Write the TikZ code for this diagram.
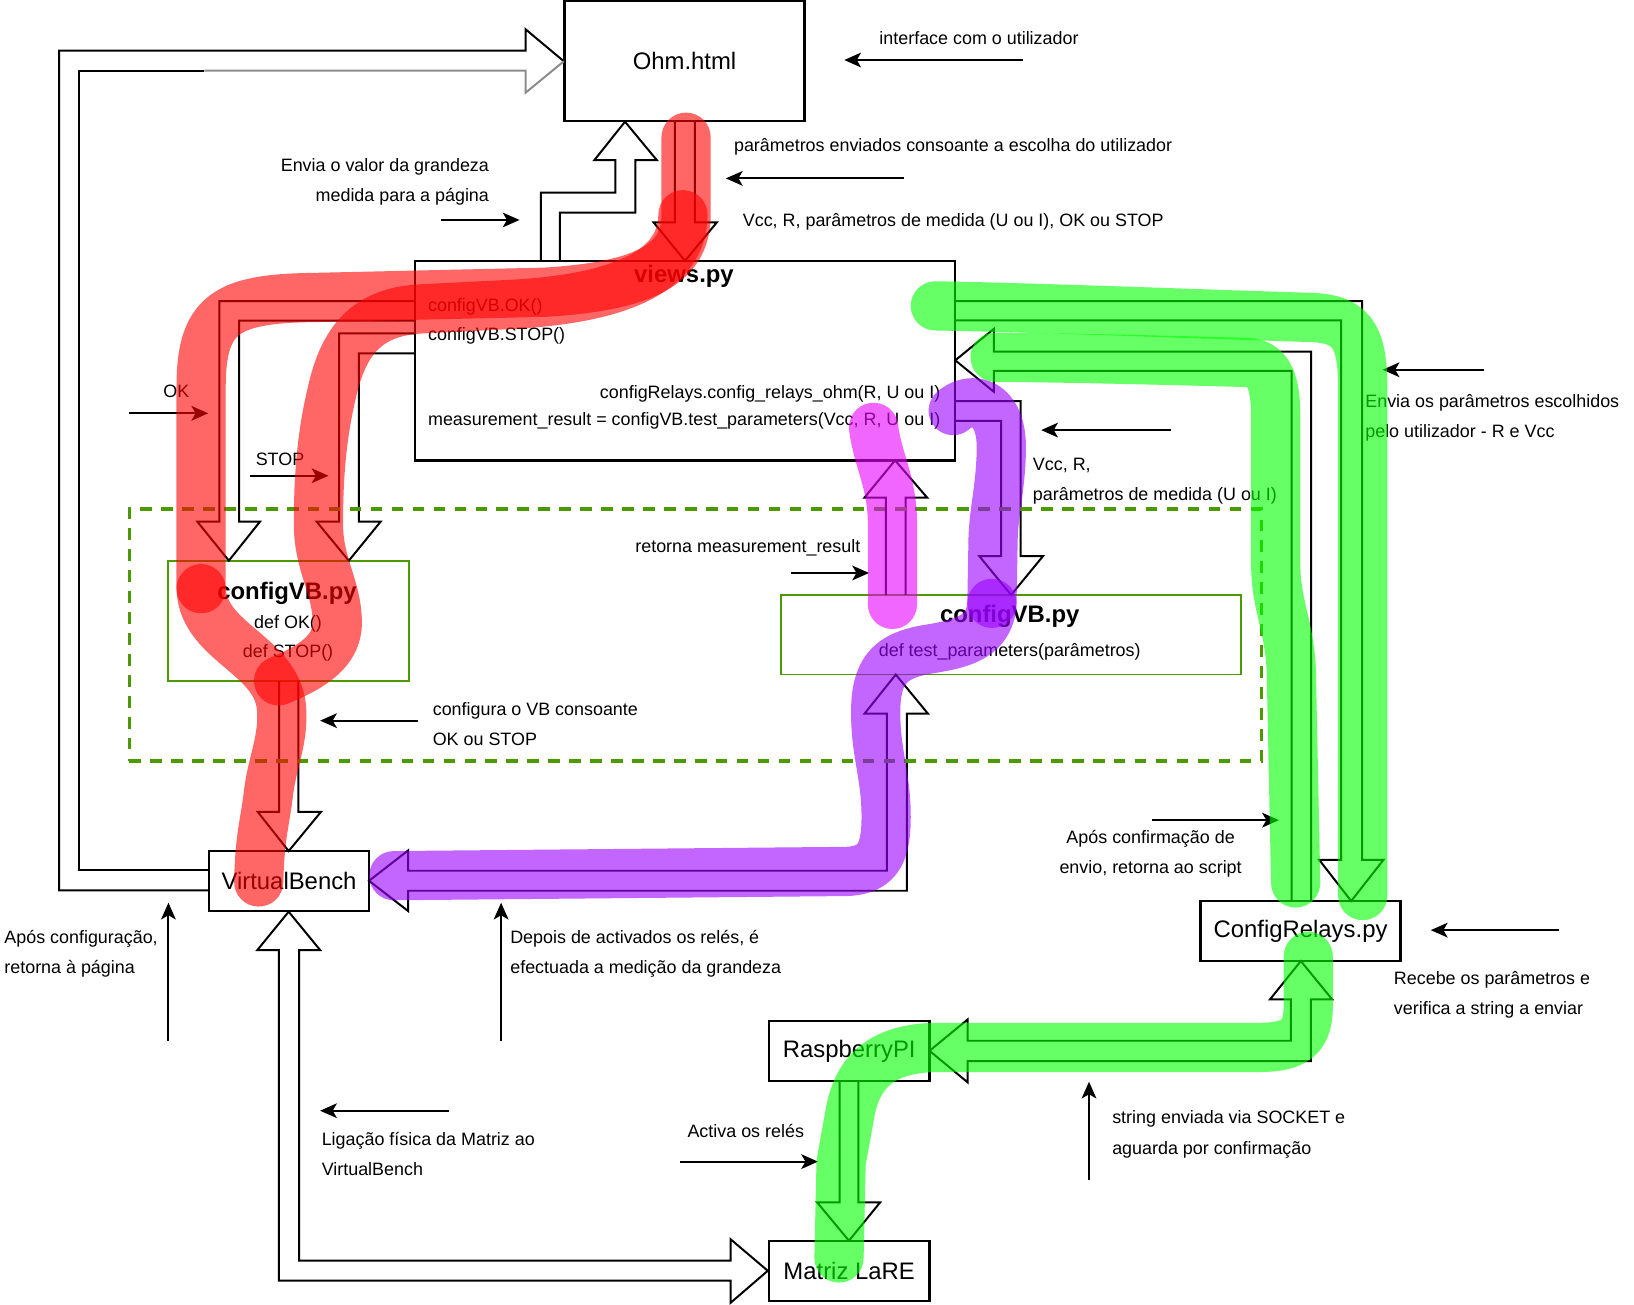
\documentclass[tikz,border=0pt]{standalone}
\usepackage{tikz}
\usepackage{xcolor}
\usepackage{fontspec}
\setmainfont{Liberation Sans}
\usetikzlibrary{arrows.meta}
\definecolor{vbGreen}{HTML}{4D9900}
\definecolor{arrowGray}{HTML}{8C8C8C}
\definecolor{markRed}{HTML}{FF0000}
\definecolor{markGreen}{HTML}{00FF00}
\definecolor{markPurple}{HTML}{9900FF}
\definecolor{markPink}{HTML}{E600FF}
\tikzstyle{filebox} = [rectangle, draw=black, line width=2.2pt, inner sep=0pt, font=\fontsize{22.8}{27}\selectfont]
\tikzstyle{codebox} = [rectangle, draw=vbGreen, line width=1.6pt, inner sep=0pt]
\tikzstyle{groupbox} = [rectangle, draw=vbGreen, line width=3pt, dash pattern=on 11pt off 9pt, inner sep=0pt]
\tikzstyle{notetext} = [inner sep=0pt, font=\fontsize{17.1}{28.7}\selectfont]
\tikzstyle{boldtitle} = [inner sep=0pt, font=\fontsize{22.8}{27}\selectfont\bfseries]
\tikzstyle{blockarrow} = [draw=black, line width=1.9pt]
\tikzstyle{pointer} = [line width=2pt, -{Stealth[length=16pt, width=14pt, inset=4pt]}]
\tikzstyle{hilite} = [line width=47pt, line cap=round, line join=round, draw opacity=0.6]

\begin{document}
\begin{tikzpicture}[x=1pt, y=-1pt]
\useasboundingbox (0,0) rectangle (1560,1245);

\node (ohm) [filebox, minimum width=229pt, minimum height=114.2pt] at (653.5,58.1) {Ohm.html};
\node (views) [filebox, minimum width=515.5pt, minimum height=190.5pt] at (654.25,344.25) {};
\node (cfgvbL) [codebox, minimum width=229.9pt, minimum height=114.7pt] at (275.55,592.65) {};
\node (cfgvbR) [codebox, minimum width=439.4pt, minimum height=75.8pt] at (965.3,605.9) {};
\node (vbench) [filebox, minimum width=152.7pt, minimum height=57pt] at (275.95,841) {VirtualBench};
\node (relays) [filebox, minimum width=190.9pt, minimum height=57.3pt] at (1241.65,888.85) {ConfigRelays.py};
\node (rpi) [filebox, minimum width=153.2pt, minimum height=57.5pt] at (810.8,1003.25) {RaspberryPI};
\node (matriz) [filebox, minimum width=153.4pt, minimum height=57.3pt] at (810.7,1213.15) {Matriz LaRE};

\draw [blockarrow] (199.6,850) -- (56.5,850) -- (56.5,48.4) -- (501.8,48.4) -- (501.8,28) -- (538.3,58.5);
\draw [blockarrow, draw=arrowGray] (538.3,58.5) -- (501.8,88.5) -- (501.8,67.5) -- (195,67.5);
\draw [blockarrow] (195,67.5) -- (75,67.5) -- (75,831) -- (199.6,831);
\draw [blockarrow] (516.3,249) -- (516.3,184) -- (587.5,184) -- (587.5,152.8) -- (567.5,152.8) -- (596.7,116.2) -- (627,152.8) -- (606.6,152.8) -- (606.6,203) -- (534.6,203) -- (534.6,249);
\draw [blockarrow] (644.2,115.2) -- (644.2,212.3) -- (624,212.3) -- (654,249) -- (684.4,212.3) -- (663.5,212.3) -- (663.5,115.2);
\draw [blockarrow] (396.5,287.4) -- (209.4,287.4) -- (209.4,498) -- (188.4,498) -- (218.5,535.3) -- (248.2,498) -- (228.4,498) -- (228.4,306.2) -- (396.5,306.2);
\draw [blockarrow] (396.5,318.3) -- (323.7,318.3) -- (323.7,498) -- (302.3,498) -- (333,535.3) -- (363.4,498) -- (342.7,498) -- (342.7,337.3) -- (396.5,337.3);
\draw [blockarrow] (266.4,650) -- (266.4,775) -- (246,775) -- (275.6,812.5) -- (306.5,775) -- (284.8,775) -- (284.8,650);
\draw [blockarrow] (275.6,870.4) -- (305.6,907) -- (285.6,907) -- (285.6,1203.6) -- (697.6,1203.6) -- (697.6,1183.2) -- (733,1213.2) -- (697.6,1243.7) -- (697.6,1222.7) -- (266.2,1222.7) -- (266.2,907) -- (245.7,907) -- cycle;
\draw [blockarrow] (845.8,568) -- (845.8,475) -- (825.4,475) -- (854.5,439.5) -- (885.1,475) -- (864.5,475) -- (864.5,568);
\draw [blockarrow] (912,383) -- (974.5,383) -- (974.5,531) -- (995.7,531) -- (965.3,568) -- (935,531) -- (955.7,531) -- (955.7,401.7) -- (912,401.7);
\draw [blockarrow] (855.2,644) -- (885.9,681.3) -- (865.9,681.3) -- (865.9,850.4) -- (389.7,850.4) -- (389.7,869.8) -- (352.3,840.9) -- (389.7,811.9) -- (389.7,831.3) -- (846.7,831.3) -- (846.7,681.3) -- (825.4,681.3) -- cycle;
\draw [blockarrow] (912,287.5) -- (1300.5,287.5) -- (1300.5,821) -- (1320.7,821) -- (1290,860.2) -- (1259.5,821) -- (1280.4,821) -- (1280.4,305.8) -- (912,305.8);
\draw [blockarrow] (1233,860.2) -- (1233,354) -- (948.8,354) -- (948.8,374) -- (912,344) -- (948.8,314) -- (948.8,335.6) -- (1251.7,335.6) -- (1251.7,860.2);
\draw [blockarrow] (1241.9,917.5) -- (1271.8,954.1) -- (1251.4,954.1) -- (1251.4,1013) -- (923.9,1013) -- (923.9,1033.4) -- (887.4,1003.2) -- (923.9,973.2) -- (923.9,993.6) -- (1232.3,993.6) -- (1232.3,954.1) -- (1212.5,954.1) -- cycle;
\draw [blockarrow] (801.7,1032) -- (801.7,1148) -- (780.2,1148) -- (810.5,1184.5) -- (840.2,1148) -- (819.5,1148) -- (819.5,1032);

\node (vbgroup) [groupbox, minimum width=1080.5pt, minimum height=240.5pt] at (663.75,606.25) {};

\node (viewsTitle) [boldtitle, anchor=base] at (653,270) {views.py};
\node (callOK) [notetext, anchor=base west] at (408.5,297.6) {configVB.OK()};
\node (callSTOP) [notetext, anchor=base west] at (408.5,324.6) {configVB.STOP()};
\node (callRelays) [notetext, anchor=base east] at (898,380) {configRelays.config\_relays\_ohm(R, U ou I)};
\node (callTest) [notetext, anchor=base west] at (408.5,405.8) {measurement\_result = configVB.test\_parameters(Vcc, R, U ou I)};
\node (cfgvbLTitle) [boldtitle, anchor=base] at (274,572.5) {configVB.py};
\node (defOK) [notetext, anchor=base] at (275,600) {def OK()};
\node (defSTOP) [notetext, anchor=base] at (275,627.6) {def STOP()};
\node (cfgvbRTitle) [boldtitle, anchor=base] at (964,594) {configVB.py};
\node (defTest) [notetext, anchor=base] at (964,626.5) {def test\_parameters(parâmetros)};

\node (lblUI) [notetext, anchor=west] at (839.4,36.8) {interface com o utilizador};
\node (lblParams) [notetext, anchor=west] at (700.6,140.6) {parâmetros enviados consoante a escolha do utilizador};
\node (lblVcc) [notetext, anchor=west] at (709,212) {Vcc, R, parâmetros de medida (U ou I), OK ou STOP};
\node (lblSend) [notetext, anchor=east, align=right] at (467,173.6) {Envia o valor da grandeza\\medida para a página};
\node (lblOK) [notetext] at (168.3,374) {OK};
\node (lblSTOP) [notetext] at (267.3,439) {STOP};
\node (lblConf) [notetext, anchor=west, align=left] at (413,691) {configura o VB consoante\\OK ou STOP};
\node (lblRet) [notetext] at (714,523) {retorna measurement\_result};
\node (lblVcc2) [notetext, anchor=west, align=left] at (986,459) {Vcc, R,\\parâmetros de medida (U ou I)};
\node (lblChosen) [notetext, anchor=west, align=left] at (1303.3,399.2) {Envia os parâmetros escolhidos\\pelo utilizador - R e Vcc};
\node (lblConfirm) [notetext, align=center] at (1098.5,815.5) {Após confirmação de\\envio, retorna ao script};
\node (lblRecv) [notetext, anchor=west, align=left] at (1330.6,949.5) {Recebe os parâmetros e\\verifica a string a enviar};
\node (lblBack) [notetext, anchor=west, align=left] at (4,911) {Após configuração,\\retorna à página};
\node (lblMeasure) [notetext, anchor=west, align=left] at (487,911) {Depois de activados os relés, é\\efectuada a medição da grandeza};
\node (lblWire) [notetext, anchor=west, align=left] at (307,1102) {Ligação física da Matriz ao\\VirtualBench};
\node (lblRelays) [notetext] at (712,1080) {Activa os relés};
\node (lblSocket) [notetext, anchor=west, align=left] at (1061.7,1083) {string enviada via SOCKET e\\aguarda por confirmação};

\coordinate (uiA) at (977,57.3); \coordinate (uiB) at (806,57.3);
\coordinate (parA) at (863,170.3); \coordinate (parB) at (693,170.3);
\coordinate (sendA) at (421,210); \coordinate (sendB) at (496,210);
\coordinate (okA) at (123.3,394.6); \coordinate (okB) at (198.8,394.6);
\coordinate (stopA) at (238.2,454.2); \coordinate (stopB) at (313.6,454.2);
\coordinate (confA) at (399.5,688); \coordinate (confB) at (305.6,688);
\coordinate (retA) at (755,547); \coordinate (retB) at (829.7,547);
\coordinate (vccA) at (1118,410.6); \coordinate (vccB) at (994,410.6);
\coordinate (chosenA) at (1417,353); \coordinate (chosenB) at (1320,353);
\coordinate (confirmA) at (1099.6,783); \coordinate (confirmB) at (1221,783);
\coordinate (recvA) at (1488.6,888); \coordinate (recvB) at (1366,888);
\coordinate (backA) at (160.8,993.6); \coordinate (backB) at (160.8,861.8);
\coordinate (measA) at (478.4,993.6); \coordinate (measB) at (478.4,861.8);
\coordinate (wireA) at (428.4,1060.4); \coordinate (wireB) at (305.6,1060.4);
\coordinate (relA) at (649,1109); \coordinate (relB) at (781,1109);
\coordinate (sockA) at (1039.7,1126.6); \coordinate (sockB) at (1039.7,1032.7);
\draw [pointer] (uiA) -- (uiB);
\draw [pointer] (parA) -- (parB);
\draw [pointer] (sendA) -- (sendB);
\draw [pointer] (okA) -- (okB);
\draw [pointer] (stopA) -- (stopB);
\draw [pointer] (confA) -- (confB);
\draw [pointer] (retA) -- (retB);
\draw [pointer] (vccA) -- (vccB);
\draw [pointer] (chosenA) -- (chosenB);
\draw [pointer] (confirmA) -- (confirmB);
\draw [pointer] (recvA) -- (recvB);
\draw [pointer] (backA) -- (backB);
\draw [pointer] (measA) -- (measB);
\draw [pointer] (wireA) -- (wireB);
\draw [pointer] (relA) -- (relB);
\draw [pointer] (sockA) -- (sockB);

\draw [hilite, draw=markRed] (655,131) -- (655,205) .. controls (655,250) and (620,273) .. (520,279) -- (300,284) .. controls (215,285) and (192,300) .. (192,370) -- (192,562);
\draw [hilite, draw=markRed] (192,562) .. controls (194,615) and (268,625) .. (269,680) .. controls (270,710) and (259,730) .. (256,760) .. controls (252,790) and (248,800) .. (247,842);
\draw [hilite, draw=markRed] (652,205) .. controls (652,255) and (600,286) .. (480,291) -- (400,295) .. controls (355,298) and (330,320) .. (318,370) .. controls (308,410) and (304,450) .. (304,500) .. controls (304,540) and (322,560) .. (322,595) .. controls (322,625) and (290,640) .. (266,650);
\draw [hilite, draw=markPurple] (910,392) .. controls (925,378) and (957,380) .. (956,430) .. controls (955,470) and (948,490) .. (948,520) -- (947,576);
\draw [hilite, draw=markPurple] (947,576) .. controls (945,610) and (915,615) .. (885,620) .. controls (850,626) and (836,640) .. (836,680) .. controls (836,720) and (846,740) .. (846,780) .. controls (846,815) and (838,832) .. (805,832) -- (376,836);
\draw [hilite, draw=markPink] (834,408) .. controls (838,440) and (852,460) .. (852,500) -- (852,577);
\draw [hilite, draw=markGreen] (893,292) .. controls (1000,294) and (1150,300) .. (1250,303) .. controls (1290,304) and (1301,320) .. (1301,370) -- (1301,855);
\draw [hilite, draw=markGreen] (950,341) .. controls (1050,342) and (1150,345) .. (1190,346) .. controls (1212,347) and (1218,365) .. (1218,400) -- (1218,540) .. controls (1218,580) and (1233,600) .. (1233,650) -- (1237,843);
\draw [hilite, draw=markGreen] (1249,913) -- (1249,960) .. controls (1249,992) and (1235,1000) .. (1200,1000) -- (890,1000) .. controls (845,1002) and (820,1020) .. (812,1060) -- (803,1110) -- (801,1201);

\end{tikzpicture}
\end{document}
